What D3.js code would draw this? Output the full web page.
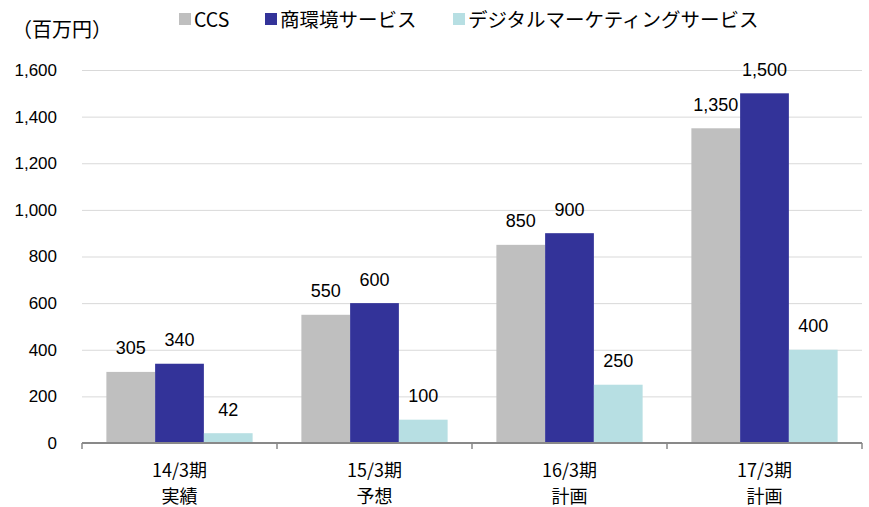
<!DOCTYPE html>
<html><head><meta charset="utf-8">
<script src="https://cdn.jsdelivr.net/npm/d3@7"></script>
<style>
body{margin:0;background:#fff;}
svg{display:block;}
</style></head>
<body>
<svg id="c" width="869" height="507"></svg>
<script>
const categories = [["14/3期","実績"],["15/3期","予想"],["16/3期","計画"],["17/3期","計画"]];
const seriesNames = ["CCS","商環境サービス","デジタルマーケティングサービス"];
const ccs = [305,550,850,1350];
const shokankyo = [340,600,900,1500];
const digital = [42,100,250,400];
const yTicks = [0,200,400,600,800,1000,1200,1400,1600];
const colors = ["#BFBFBF","#333399","#B7DFE3"];
const unitLabel = "（百万円）";

const series = [ccs, shokankyo, digital];
const svg = d3.select("#c");
const m = {left:82, right:862, top:70, bottom:443};
const jp = "'Noto Sans CJK JP', sans-serif";
const num = "'Liberation Sans', Arial, sans-serif";

const x0 = d3.scaleBand().domain(d3.range(categories.length)).range([m.left, m.right]).paddingInner(0).paddingOuter(0);
const x1 = d3.scaleBand().domain(d3.range(series.length)).range([0, x0.bandwidth()]).paddingOuter(0.5).paddingInner(0);
const y = d3.scaleLinear().domain([0,1600]).range([m.bottom, m.top]);

// gridlines
svg.append("g").selectAll("line").data(yTicks.filter(d=>d>0)).join("line")
  .attr("x1", m.left).attr("x2", m.right)
  .attr("y1", d=>y(d)+0.5).attr("y2", d=>y(d)+0.5)
  .attr("stroke","#D9D9D9").attr("stroke-width",1);

// y axis labels
const yAxis = d3.axisLeft(y).tickValues(yTicks).tickFormat(d3.format(",")).tickSize(0).tickPadding(0);
const ya = svg.append("g").attr("transform",`translate(57,0)`).call(yAxis);
ya.select(".domain").remove();
ya.selectAll("text").attr("font-family", num).attr("font-size", 17).attr("fill","#000");

// bars
series.forEach((s, si) => {
  svg.append("g").selectAll("rect").data(s).join("rect")
    .attr("x", (d,i)=>x0(i)+x1(si))
    .attr("width", x1.bandwidth())
    .attr("y", d=>y(d))
    .attr("height", d=>y(0)-y(d))
    .attr("fill", colors[si]);
  svg.append("g").selectAll("text").data(s).join("text")
    .attr("x", (d,i)=>x0(i)+x1(si)+x1.bandwidth()/2)
    .attr("y", d=>y(d)-17.5)
    .attr("text-anchor","middle")
    .attr("font-family", num).attr("font-size", 18).attr("fill","#000")
    .text(d=>d3.format(",")(d));
});

// x axis
const xAxis = d3.axisBottom(x0).tickSize(0).tickFormat("");
const xa = svg.append("g").attr("transform",`translate(0,${m.bottom})`).call(xAxis);
xa.select(".domain").attr("stroke","#898989").attr("stroke-width",2).attr("d",`M${m.left},0H${m.right}`);
const bounds = d3.range(categories.length+1).map(i=> i<categories.length ? x0(i) : m.right);
svg.append("g").selectAll("line").data(bounds).join("line")
  .attr("x1",d=>d).attr("x2",d=>d).attr("y1",m.bottom).attr("y2",m.bottom+6)
  .attr("stroke","#898989").attr("stroke-width",1.5);
const xg = svg.append("g");
[0,1].forEach(li => {
  xg.append("g").selectAll("text").data(categories).join("text")
    .attr("text-anchor","middle")
    .attr("font-family", jp).attr("font-size", 18).attr("fill","#000")
    .attr("x",(d,i)=>x0(i)+x0.bandwidth()/2)
    .attr("y", li===0 ? 477 : 503)
    .text(d=>d[li]);
});

// unit label
svg.append("text").attr("x",12).attr("y",37).attr("font-family",jp).attr("font-size",20).attr("fill","#000").text(unitLabel);

// legend
const legendX = [179, 265, 453];
const lg = svg.append("g").selectAll("g").data(seriesNames).join("g")
  .attr("transform",(d,i)=>`translate(${legendX[i]},0)`);
lg.append("rect").attr("x",0).attr("y",13).attr("width",12).attr("height",12).attr("fill",(d,i)=>colors[i]);
lg.append("text").attr("x",15).attr("y",27).attr("font-family",jp).attr("font-size",19.5).attr("fill","#000").text(d=>d);
</script>
</body></html>
